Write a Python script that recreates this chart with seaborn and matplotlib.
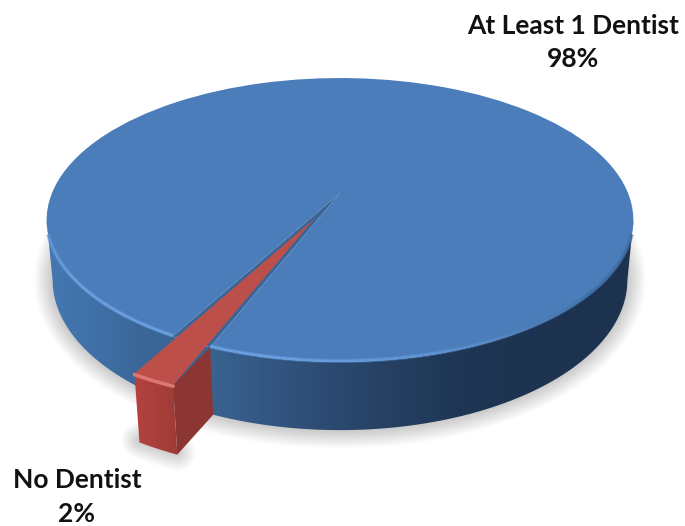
import numpy as np
import matplotlib
matplotlib.use("Agg")
import matplotlib.pyplot as plt
import seaborn as sns
from matplotlib.collections import LineCollection
from matplotlib.colors import LinearSegmentedColormap, to_rgb
from matplotlib.patches import Polygon
from matplotlib.transforms import Transform

# Survey shares
categories = ["At Least 1 Dentist", "No Dentist"]
shares = [98, 2]
share_labels = ["98%", "2%"]

# Face colours and the slice that is pulled out of the disc
face_colors = ["#4a7dba", "#bd4f4b"]
slice_gap = [0.0, 0.2]
first_angle = 248.2

# Camera used for the tilted disc, in canvas pixels
WIDTH, HEIGHT = 685, 526
CENTER_X, CENTER_Y = 340.0, 193.0
SCALE_X, SCALE_Y = 288.0, 136.8
RECEDE = 0.19
THICKNESS_Y, THICKNESS_W = 60.0, 0.02


class DiscProjection(Transform):
    """Maps the pie's unit plane to canvas pixels with perspective."""
    input_dims = output_dims = 2
    is_separable = False
    has_inverse = False

    def __init__(self, lowered=0.0):
        super().__init__()
        self.lowered = lowered

    def transform_non_affine(self, values):
        values = np.asarray(values, dtype=float)
        u, v = values[:, 0], values[:, 1]
        w = 1 + RECEDE * v + THICKNESS_W * self.lowered
        x = CENTER_X + SCALE_X * u / w
        y = CENTER_Y - (SCALE_Y * v - THICKNESS_Y * self.lowered) / w
        return np.column_stack([x, y])


top_plane = DiscProjection(0.0)
bottom_plane = DiscProjection(1.0)


def rim(plane, degrees, offset=(0.0, 0.0)):
    t = np.radians(degrees)
    return plane.transform(np.column_stack([np.cos(t) + offset[0], np.sin(t) + offset[1]]))


def gradient_patch(ax, outline, stops, zorder):
    """Fills a polygon with a left-to-right colour ramp given as (x, colour) stops."""
    xs = np.array([s[0] for s in stops], dtype=float)
    lo, hi = xs.min(), xs.max()
    cmap = LinearSegmentedColormap.from_list(
        "ramp", [((x - lo) / (hi - lo), c) for x, c in stops])
    image = ax.imshow(np.linspace(0, 1, 512)[None, :], cmap=cmap, aspect="auto",
                      extent=(lo, hi, HEIGHT, 0), zorder=zorder, interpolation="bilinear")
    clip = Polygon(outline, closed=True, transform=ax.transData)
    image.set_clip_path(clip)


sns.set_theme(style="white")
plt.rcParams["font.family"] = ["Lato", "DejaVu Sans"]

fig = plt.figure(figsize=(WIDTH / 100, HEIGHT / 100), dpi=100, facecolor="white")
ax = fig.add_axes([0, 0, 1, 1])

palette = sns.color_palette(face_colors)
wedges, _ = ax.pie(shares, colors=palette, explode=slice_gap, startangle=first_angle,
                   counterclock=True, radius=1.0, wedgeprops={"linewidth": 0})
blue_wedge, red_wedge = wedges
for wedge, z in zip(wedges, (5, 7)):
    wedge.set_transform(top_plane + ax.transData)
    wedge.set_zorder(z)
    wedge.set_clip_on(False)
    wedge.set_edgecolor("none")

# Dark inner face seen through the gap the slice leaves behind
inner, _ = ax.pie(shares, colors=["none", "#3a6594"], startangle=first_angle, radius=1.0,
                  wedgeprops={"linewidth": 0})
inner[0].set_visible(False)
inner[1].set_transform(top_plane + ax.transData)
inner[1].set_zorder(4)
inner[1].set_edgecolor("none")

ax.set_aspect("auto")
ax.set_xlim(0, WIDTH)
ax.set_ylim(HEIGHT, 0)
ax.axis("off")

# pie() keeps counting past 360 degrees, so bring the slice back into one turn
red_span = red_wedge.theta2 - red_wedge.theta1
red_start = red_wedge.theta1 % 360
red_end = red_start + red_span
mid = np.radians((red_start + red_end) / 2)
offset = (slice_gap[1] * np.cos(mid), slice_gap[1] * np.sin(mid))

# Soft shadow under the disc and under the pulled-out slice
shadow_angles = np.linspace(172, 368, 200)
shadow_path = rim(bottom_plane, shadow_angles)
red_arc = np.linspace(red_start, red_end, 12)
red_bottom = rim(bottom_plane, red_arc, offset)
for lw in np.linspace(2, 26, 13):
    ax.plot(shadow_path[:, 0], shadow_path[:, 1], color="black", lw=lw, alpha=0.014,
            zorder=1, solid_capstyle="round", solid_joinstyle="round")
    ax.plot(red_bottom[:, 0], red_bottom[:, 1] - 2, color="black", lw=lw, alpha=0.014,
            zorder=1, solid_capstyle="round")

# Side wall of the main disc, bounded by the disc's left and right silhouette
wall_angles = np.linspace(191, 349, 240)
wall = np.vstack([rim(top_plane, wall_angles), rim(bottom_plane, wall_angles)[::-1]])
gradient_patch(ax, wall, [(40, "#4679b3"), (100, "#3f6fa6"), (135, "#3b6899"),
                          (215, "#39628f"), (300, "#2f5079"), (400, "#243e60"),
                          (470, "#1e3553"), (645, "#1c324e")], zorder=3)

# Highlight running along the disc's front edge, skipping the gap
bevel_stops = [(180, "#5588c6"), (215, "#6aa0e2"), (260, "#6aa0e2"),
               (285, "#5f93d3"), (320, "#416fa6"), (360, "#3f6b9f")]
bevel_angles = np.r_[np.linspace(197, red_start, 70), np.linspace(red_end, 343, 140)]
stop_x = np.array([s[0] for s in bevel_stops], dtype=float)
stop_rgb = np.array([to_rgb(s[1]) for s in bevel_stops])
bevel_xy = rim(top_plane, bevel_angles)
bevel_xy[:, 1] -= 1
segments, colours = [], []
for i in range(len(bevel_angles) - 1):
    if bevel_angles[i] < red_start + 0.01 < bevel_angles[i + 1]:
        continue
    segments.append(bevel_xy[i:i + 2])
    a = (bevel_angles[i] + bevel_angles[i + 1]) / 2
    colours.append([np.interp(a, stop_x, stop_rgb[:, c]) for c in range(3)])
ax.add_collection(LineCollection(segments, colors=colours, linewidths=3.0, alpha=0.45, zorder=6,
                                 capstyle="butt"))
ax.add_collection(LineCollection(segments, colors=colours, linewidths=1.6, zorder=6,
                                 capstyle="butt"))

# Outer wall of the slice
outer_top = rim(top_plane, red_arc, offset)
outer = np.vstack([outer_top, red_bottom[::-1]])
gradient_patch(ax, outer, [(125, "#b8443f"), (150, "#ad403c"), (185, "#9a3935")], zorder=6)

# Cut face of the slice, ending where it enters the disc
cut = np.vstack([rim(top_plane, [red_end], offset), rim(bottom_plane, [red_end], offset),
                 rim(bottom_plane, [red_end]), rim(top_plane, [red_end])])
ax.add_patch(Polygon(cut, closed=True, facecolor="#8b3632", edgecolor="none", zorder=6))

# Highlight on the slice's outer edge
ax.plot(outer_top[:, 0], outer_top[:, 1] + 1, color="#e27d78", lw=2.6, zorder=8,
        solid_capstyle="round", alpha=0.9)

# Category labels with their shares
ax.text(573, 42.5, f"{categories[0]}\n{share_labels[0]}", ha="center", va="center",
        fontsize=19, fontweight="bold", color="#111111", linespacing=1.47, zorder=10)
ax.text(77, 497, f"{categories[1]}\n{share_labels[1]}", ha="center", va="center",
        fontsize=19, fontweight="bold", color="#111111", linespacing=1.55, zorder=10)

fig.savefig("out.png", dpi=100, facecolor="white")
